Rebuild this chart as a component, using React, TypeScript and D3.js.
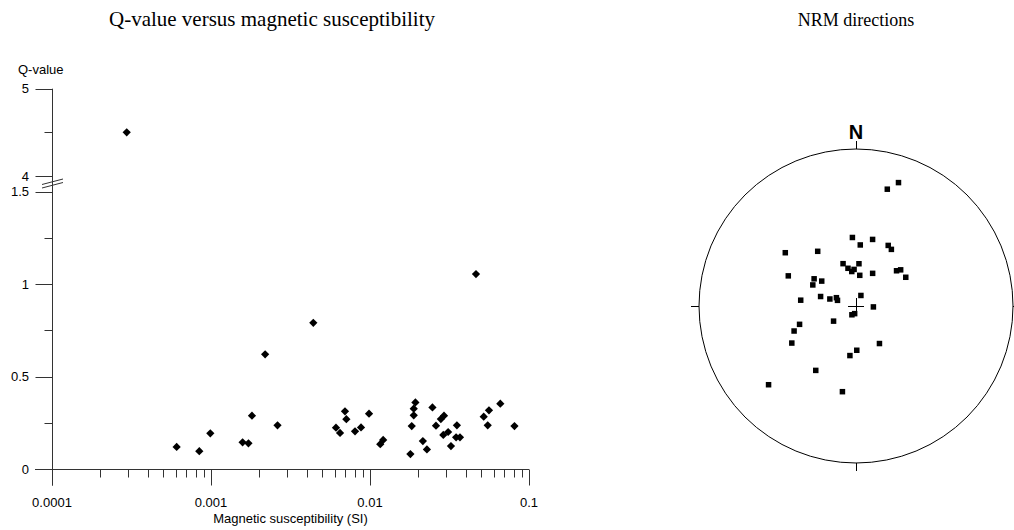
import React, { useRef, useEffect } from 'react';
import * as d3 from 'd3';

// Q-value plot data (susceptibility in SI, Q dimensionless)
const susceptibility = [
  0.000295, 0.0464, 0.0044, 0.00219, 0.000608, 0.000844, 0.00099, 0.00158, 0.00172, 0.00181,
  0.00262, 0.00611, 0.00648, 0.00696, 0.0071, 0.00805, 0.00878, 0.00986, 0.0116, 0.0121,
  0.01795, 0.0183, 0.01884, 0.01884, 0.0193, 0.0215, 0.0228, 0.0247, 0.026, 0.0279,
  0.0292, 0.0289, 0.031, 0.0323, 0.0352, 0.0348, 0.0368, 0.0519, 0.056, 0.055,
  0.066, 0.081,
];
const qValues = [
  4.5, 1.054, 0.79, 0.62, 0.119, 0.096, 0.193, 0.144, 0.139, 0.288,
  0.236, 0.223, 0.195, 0.312, 0.269, 0.204, 0.225, 0.299, 0.134, 0.157,
  0.081, 0.232, 0.29, 0.326, 0.36, 0.151, 0.106, 0.333, 0.234, 0.27,
  0.288, 0.184, 0.2, 0.124, 0.236, 0.171, 0.171, 0.283, 0.317, 0.236,
  0.353, 0.232,
];

const xTickValues = [0.0001, 0.001, 0.01, 0.1];
const xTickLabels = ['0.0001', '0.001', '0.01', '0.1'];
const yLowTicks = [0, 0.5, 1, 1.5];
const yLowTickLabels = ['0', '0.5', '1', '1.5'];
const yLowMinor = [0.25, 0.75, 1.25];
const yHighTicks = [4, 5];
const yHighTickLabels = ['4', '5'];
const yHighMinor = [4.5];

// NRM directions (degrees), lower hemisphere
const declination = [
  19, 15, 357, 4, 14, 28, 32, 307, 325, 343,
  348, 353, 357, 4, 7, 27, 49, 51, 60, 294,
  303, 306, 296, 276, 285, 285, 293, 287, 25, 93,
  205, 190, 236, 252, 248, 240, 148, 179, 187, 212,
  228, 189,
];
const inclination = [
  18, 24, 54, 58, 54, 54, 55, 43, 55, 67,
  70, 72, 71, 68, 74, 71, 62, 60, 60, 51,
  64, 68, 65, 61, 71, 76, 79, 80, 84, 81,
  85, 86, 76, 59, 55, 51, 67, 67, 64, 50,
  26, 44,
];

const W = 1014;
const H = 530;
const sans = "'Liberation Sans', Arial, sans-serif";
const serif = "'Liberation Serif', 'Times New Roman', serif";
const axisColor = '#333';
const crisp = (v: number) => Math.round(v) + 0.5;

const App = () => {
  const svgRef = useRef<SVGSVGElement | null>(null);

  useEffect(() => {
    if (!svgRef.current) return;
    const svg = d3.select(svgRef.current);
    svg.selectAll('*').remove();

    // ---------- Left: Q-value vs susceptibility ----------
    const xLeft = 52;
    const xRight = 529;
    const x = d3.scaleLog().domain([0.0001, 0.1]).range([xLeft, xRight]);
    const yLow = d3.scaleLinear().domain([0, 1.5]).range([469, 191.5]);
    const yHigh = d3.scaleLinear().domain([4, 5]).range([176, 88.7]);
    const yPos = (q: number) => (q > 2 ? yHigh(q) : yLow(q));

    const g = svg.append('g');
    const ax = crisp(xLeft);
    const ay = crisp(yLow(0));

    // axis lines
    g.append('line')
      .attr('x1', ax).attr('x2', ax)
      .attr('y1', yHigh(5)).attr('y2', ay + 16)
      .attr('stroke', axisColor);
    g.append('line')
      .attr('x1', xLeft - 17).attr('x2', xRight)
      .attr('y1', ay).attr('y2', ay)
      .attr('stroke', axisColor);

    // y ticks
    const yTick = (yy: number, len: number) =>
      g.append('line')
        .attr('x1', ax - len).attr('x2', ax)
        .attr('y1', crisp(yy)).attr('y2', crisp(yy))
        .attr('stroke', axisColor);
    yLowTicks.forEach((v, i) => {
      yTick(yLow(v), 17);
      g.append('text')
        .attr('x', 29).attr('y', yLow(v) + 4.5)
        .attr('text-anchor', 'end')
        .style('font-family', sans).style('font-size', '13px')
        .text(yLowTickLabels[i]);
    });
    yLowMinor.forEach(v => yTick(yLow(v), 8));
    yHighTicks.forEach((v, i) => {
      yTick(yHigh(v), 17);
      g.append('text')
        .attr('x', 29).attr('y', yHigh(v) + 4.5)
        .attr('text-anchor', 'end')
        .style('font-family', sans).style('font-size', '13px')
        .text(yHighTickLabels[i]);
    });
    yHighMinor.forEach(v => yTick(yHigh(v), 8));

    // axis break marks
    [0, 3.5].forEach(off => {
      g.append('line')
        .attr('x1', 42).attr('x2', 63)
        .attr('y1', 184.5 + off).attr('y2', 179 + off)
        .attr('stroke', axisColor);
    });

    // x ticks
    const xTick = (xx: number, len: number) =>
      g.append('line')
        .attr('x1', crisp(xx)).attr('x2', crisp(xx))
        .attr('y1', ay).attr('y2', ay + len)
        .attr('stroke', axisColor);
    xTickValues.forEach((v, i) => {
      xTick(x(v), 16);
      g.append('text')
        .attr('x', x(v)).attr('y', 506.5)
        .attr('text-anchor', 'middle')
        .style('font-family', sans).style('font-size', '13px')
        .text(xTickLabels[i]);
    });
    xTickValues.slice(0, -1).forEach(d => {
      d3.range(2, 10).forEach(k => xTick(x(k * d), 8));
    });

    g.append('text')
      .attr('x', (xLeft + xRight) / 2).attr('y', 523)
      .attr('text-anchor', 'middle')
      .style('font-family', sans).style('font-size', '13px')
      .text('Magnetic susceptibility (SI)');
    g.append('text')
      .attr('x', 18).attr('y', 74)
      .style('font-family', sans).style('font-size', '13px')
      .text('Q-value');

    // points (diamonds)
    const diamond = d3.symbol().type(d3.symbolSquare).size(34)();
    g.append('g')
      .selectAll('path')
      .data(susceptibility.map((s, i) => ({ s, q: qValues[i] })))
      .enter()
      .append('path')
      .attr('d', diamond)
      .attr('transform', d => `translate(${x(d.s)},${yPos(d.q)}) rotate(45)`)
      .attr('fill', '#000');

    svg.append('text')
      .attr('x', 272).attr('y', 26)
      .attr('text-anchor', 'middle')
      .style('font-family', serif).style('font-size', '21px')
      .text('Q-value versus magnetic susceptibility');

    // ---------- Right: stereonet ----------
    const cx = 856;
    const cy = 306;
    const R = 157;
    const px = d3.scaleLinear().domain([-1, 1]).range([cx - R, cx + R]);
    const py = d3.scaleLinear().domain([-1, 1]).range([cy + R, cy - R]);
    const net = svg.append('g');

    net.append('circle')
      .attr('cx', cx).attr('cy', cy).attr('r', R)
      .attr('fill', 'none').attr('stroke', '#000').attr('stroke-width', 1);

    const seg = (x1: number, y1: number, x2: number, y2: number) =>
      net.append('line')
        .attr('x1', x1).attr('y1', y1).attr('x2', x2).attr('y2', y2)
        .attr('stroke', '#000');
    seg(crisp(cx), cy - R - 8, crisp(cx), cy - R);
    seg(crisp(cx), cy + R, crisp(cx), cy + R + 8);
    seg(cx - R - 8, crisp(cy), cx - R, crisp(cy));
    seg(cx + R, crisp(cy), cx + R + 8, crisp(cy));
    seg(cx - 8, crisp(cy), cx + 8, crisp(cy));
    seg(crisp(cx), cy - 8, crisp(cx), cy + 8);

    net.append('text')
      .attr('x', cx).attr('y', cy - R - 10)
      .attr('text-anchor', 'middle')
      .style('font-family', sans).style('font-size', '20px').style('font-weight', 'bold')
      .text('N');

    // equal-area (Schmidt) projection
    const dirs = declination.map((dec, i) => {
      const r = Math.SQRT2 * Math.sin(((90 - inclination[i]) / 2) * Math.PI / 180);
      const a = dec * Math.PI / 180;
      return { e: r * Math.sin(a), n: r * Math.cos(a) };
    });
    const sq = 5.5;
    net.append('g')
      .selectAll('rect')
      .data(dirs)
      .enter()
      .append('rect')
      .attr('x', d => px(d.e) - sq / 2)
      .attr('y', d => py(d.n) - sq / 2)
      .attr('width', sq).attr('height', sq)
      .attr('fill', '#000');

    svg.append('text')
      .attr('x', 856).attr('y', 26)
      .attr('text-anchor', 'middle')
      .style('font-family', serif).style('font-size', '18px')
      .text('NRM directions');
  }, []);

  return (
    <svg
      ref={svgRef}
      width={W}
      height={H}
      style={{ position: 'absolute', left: 0, top: 0, background: '#fff' }}
    />
  );
};

export default App;
